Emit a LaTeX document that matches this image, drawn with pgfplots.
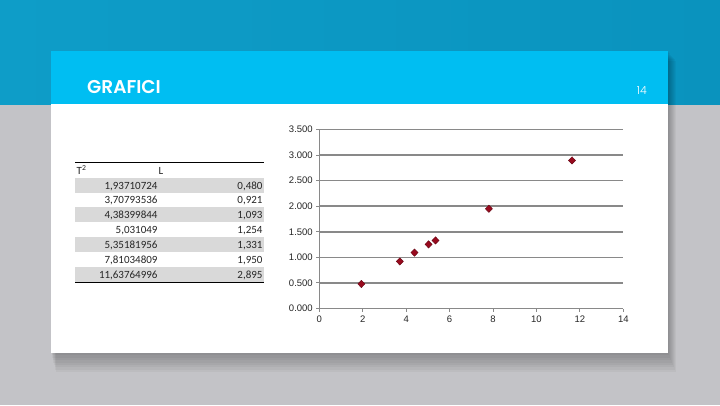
\documentclass[border=0pt]{standalone}
\usepackage{pgfplots}
\pgfplotsset{compat=1.18}
\usepackage{fontspec}
\setmainfont{Liberation Sans}
\newfontfamily\tabfont{Carlito}
\newfontfamily\titlefont{Poppins SemiBold}
\newfontfamily\numfont{Poppins Light}

\definecolor{bgblue}{HTML}{0A93BE}
\definecolor{bgblueL}{HTML}{0E9DC8}
\definecolor{headblue}{HTML}{00BEF2}
\definecolor{bggray}{HTML}{C3C3C7}
\definecolor{gridgray}{HTML}{898989}
\definecolor{rowgray}{HTML}{D9D9D9}
\definecolor{markred}{HTML}{990A1E}

\pgfplotstableread{
T2          L
1.93710724  0.480
3.70793536  0.921
4.38399844  1.093
5.031049    1.254
5.35181956  1.331
7.81034809  1.950
11.63764996 2.895
}\pendolo

\begin{document}
\begin{tikzpicture}
% slide background, pixel coordinates (y down)
\begin{scope}[x=1pt,y=-1pt]
  \fill[bggray] (0,0) rectangle (720,405);
  \shade[left color=bgblueL, right color=bgblue] (0,0) rectangle (720,104);
  % soft shadow under the card
  \foreach \d in {2,4,...,16}
    \fill[black, opacity=0.035] (51+\d*0.3,51+\d*0.6) rectangle (668+\d*0.5,353+\d*1.2);
  \fill[white] (51,51) rectangle (668,353);
  \fill[headblue] (51,51) rectangle (668,104);
  \node[anchor=base west, inner sep=0pt, text=white, font=\titlefont\fontsize{18.5}{21}\selectfont] at (87,93) {GRAFICI};
  \node[anchor=base east, inner sep=0pt, text=white, font=\numfont\fontsize{11}{13}\selectfont] at (647,94) {14};
  % data table
  \foreach \r in {0,2,4,6}
    \fill[rowgray] (75,177.7+\r*14.86) rectangle (264,177.7+\r*14.86+14.86);
  \draw[black, line width=0.8pt] (75,162.7) -- (264,162.7);
  \draw[black, line width=0.8pt] (75,282.3) -- (264,282.3);
  \begin{scope}[every node/.style={inner sep=0pt, text=black!85, font=\tabfont\fontsize{11}{12}\selectfont}]
    \node[anchor=base west] at (76.5,174) {T\textsuperscript{2}};
    \node[anchor=base] at (161,174) {L};
    \foreach \a/\b [count=\i from 0] in {{1,93710724}/{0,480}, {3,70793536}/{0,921}, {4,38399844}/{1,093},
        {5,031049}/{1,254}, {5,35181956}/{1,331}, {7,81034809}/{1,950}, {11,63764996}/{2,895}}{
      \node[anchor=base east] at (157.7,189+\i*14.86) {\a};
      \node[anchor=base east] at (262.7,189+\i*14.86) {\b};
    }
  \end{scope}
\end{scope}

\begin{axis}[
    at={(319.3pt,-308.5pt)}, anchor=south west,
    scale only axis, width=304pt, height=179pt,
    xmin=0, xmax=14, ymin=0, ymax=3.5,
    xtick={0,2,...,14}, ytick={0,0.5,...,3.5},
    axis lines=left,
    axis line style={gridgray, line width=1.6pt, -},
    ymajorgrids, major grid style={gridgray, line width=1.6pt},
    tick style={gridgray, line width=1pt},
    tick align=outside, major tick length=3pt,
    ticklabel style={font=\fontsize{9.5}{10}\selectfont, text=black!85},
    /pgf/number format/assume math mode=true,
    y tick label style={/pgf/number format/.cd, fixed, fixed zerofill, precision=3, 1000 sep={}},
    xticklabel style={yshift=-1pt},
    clip=false,
]
\addplot[only marks, mark=diamond*, mark size=3.6pt,
    mark options={xscale=1.3, fill=markred, draw=markred!70!black, line width=0.5pt}]
    table[x=T2, y=L] {\pendolo};
\end{axis}
\end{tikzpicture}
\end{document}
